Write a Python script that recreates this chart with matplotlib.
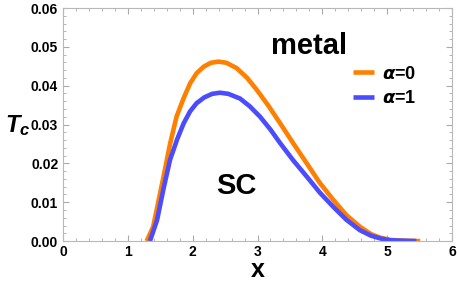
import numpy as np
import matplotlib.pyplot as plt
from matplotlib.ticker import MultipleLocator

# values
x0 = [1.29, 1.39, 1.55, 1.65, 1.75, 1.86, 1.96, 2.06, 2.17, 2.28, 2.40, 2.52, 2.68,
      2.84, 2.99, 3.17, 3.35, 3.55, 3.76, 3.96, 4.17, 4.37, 4.58, 4.75, 4.89, 5.05, 5.25, 5.51]
tc0 = [0.0, 0.0037, 0.0166, 0.025, 0.032, 0.0368, 0.0406, 0.0432, 0.0449, 0.0459, 0.0462, 0.0459, 0.0445,
       0.0420, 0.0389, 0.0348, 0.0303, 0.0252, 0.0200, 0.0150, 0.0106, 0.0067, 0.0037, 0.0018, 0.0009, 0.0003, 0.0001, 0.0]

x1 = [1.34, 1.45, 1.55, 1.65, 1.76, 1.86, 1.96, 2.06, 2.18, 2.30, 2.42, 2.55, 2.73,
      2.88, 3.04, 3.20, 3.35, 3.55, 3.76, 3.96, 4.17, 4.37, 4.58, 4.75, 4.89, 5.05, 5.25, 5.45]
tc1 = [0.0, 0.0054, 0.0135, 0.0209, 0.0262, 0.0303, 0.0334, 0.0355, 0.0370, 0.0379, 0.0382, 0.0379, 0.0367,
       0.0347, 0.0320, 0.0287, 0.0252, 0.0208, 0.0166, 0.0125, 0.0088, 0.0055, 0.0028, 0.0014, 0.0007, 0.0002, 0.0001, 0.0]

labels = [r'$\boldsymbol{\alpha}$=0', r'$\boldsymbol{\alpha}$=1']

plt.rcParams['font.family'] = 'Liberation Sans'
plt.rcParams['mathtext.fontset'] = 'custom'
plt.rcParams['mathtext.it'] = 'Liberation Sans:italic:bold'
plt.rcParams['mathtext.bf'] = 'Liberation Sans:italic:bold'

fig = plt.figure(figsize=(4.57, 2.86), dpi=100)
ax = fig.add_axes([0.138, 0.157, 0.851, 0.815])

ax.plot(x0, tc0, color='#ff7f00', lw=3.3, label=labels[0], solid_capstyle='butt')
ax.plot(x1, tc1, color='#4c4cff', lw=3.3, label=labels[1], solid_capstyle='butt')

ax.set_xlim(0, 6)
ax.set_ylim(0, 0.06)
ax.xaxis.set_major_locator(MultipleLocator(1))
ax.xaxis.set_minor_locator(MultipleLocator(0.2))
ax.yaxis.set_major_locator(MultipleLocator(0.01))
ax.yaxis.set_minor_locator(MultipleLocator(0.002))
ax.yaxis.set_major_formatter(plt.FuncFormatter(lambda v, p: f'{v:.2f}'))
ax.tick_params(which='both', direction='in', top=True, right=True, color='#aaaaaa',
               labelsize=10)
ax.tick_params(which='major', length=4)
ax.tick_params(which='minor', length=2)
ax.tick_params(axis='x', pad=3)
for lab in ax.get_xticklabels() + ax.get_yticklabels():
    lab.set_fontweight('bold')
for sp in ax.spines.values():
    sp.set_color('#b8b8b8')

ax.set_xlabel('x', fontsize=18, fontweight='bold', labelpad=-1)
fig.text(0.038, 0.56, r'$T_c$', fontsize=17, ha='center', va='center')

ax.text(3.8, 0.0502, 'metal', fontsize=21, fontweight='bold', ha='center', va='center')
ax.text(2.68, 0.0143, 'SC', fontsize=21, fontweight='bold', ha='center', va='center')

leg = ax.legend(loc='upper left', bbox_to_anchor=(0.705, 0.822), frameon=False,
                handlelength=1.15, handletextpad=0.45, labelspacing=0.4,
                prop={'weight': 'bold', 'size': 13})

fig.savefig('out.png', dpi=100)
